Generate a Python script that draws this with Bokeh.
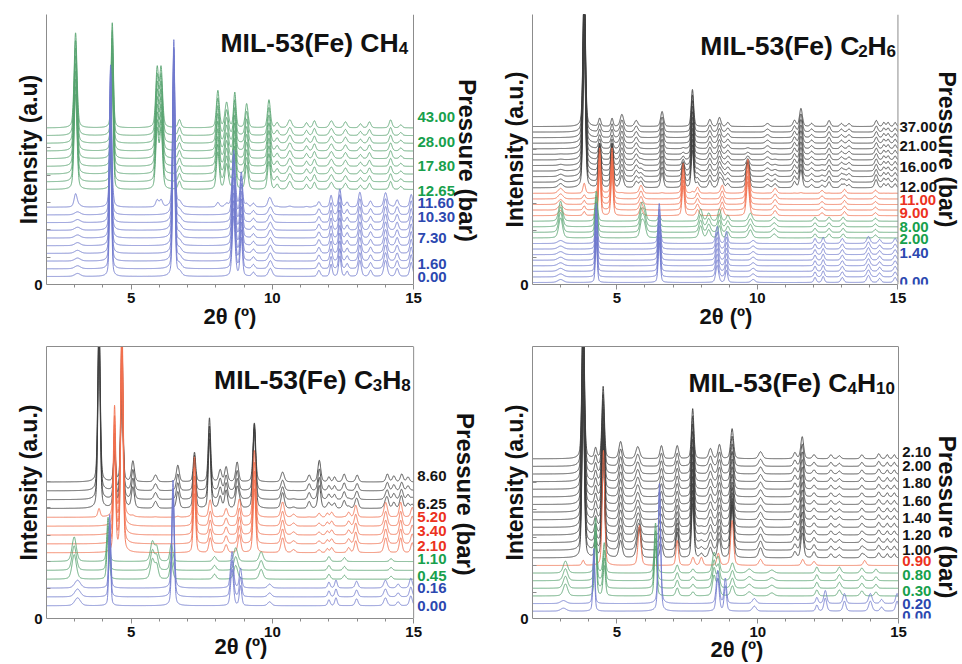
import math
import numpy as np
from bokeh.plotting import figure
from bokeh.layouts import gridplot
from bokeh.models import Range1d, FixedTicker, Label, Span, LinearAxis, Title
from bokeh.embed import file_html
from bokeh.resources import INLINE

# ------------------------------------------------------------------ data
X_TICKS = [5, 10, 15]
X_LABEL = "2θ (º)"

# peaks: (2theta, height, half-width)
CH4_BLUE = [(3.10, 3, 0.12), (4.27, 150, 0.04), (6.51, 175, 0.045), (6.72, 4, 0.08),
            (8.63, 60, 0.06), (8.90, 38, 0.05), (9.33, 4, 0.06), (9.93, 8, 0.08),
            (11.65, 6, 0.06), (12.08, 12, 0.05), (12.39, 20, 0.05), (12.65, 5, 0.05),
            (13.10, 16, 0.06), (13.48, 6, 0.06), (14.01, 16, 0.07), (14.42, 8, 0.06),
            (14.92, 14, 0.06)]
CH4_GREEN = [(3.03, 95, 0.06), (4.33, 105, 0.045), (5.92, 58, 0.06), (6.06, 58, 0.06),
             (6.71, 8, 0.06), (8.07, 37, 0.06), (8.38, 25, 0.07), (8.67, 35, 0.05),
             (9.09, 24, 0.06), (9.88, 28, 0.06), (10.17, 5, 0.06), (10.62, 8, 0.08),
             (11.21, 5, 0.06), (11.49, 7, 0.06), (12.09, 7, 0.08), (12.59, 6, 0.07),
             (13.12, 4, 0.06), (13.44, 6, 0.06), (14.19, 8, 0.06), (14.55, 3, 0.06)]
CH4_GROUPS = ["blue"] * 10 + ["green"] * 9
CH4_WEIGHTS = {"blue": [1, 1, 1, 1, 1, 1, 1, 1, 1, 0.9, 0, 0, 0, 0, 0, 0, 0, 0, 0],
               "green": [0, 0, 0, 0, 0, 0, 0, 0, 0, 0.12, 1, 1, 1, 1, 1, 1, 1, 1, 1]}
CH4_P_TEXT = ["43.00", "28.00", "17.80", "12.65", "11.60", "10.30", "7.30", "1.60", "0.00"]
CH4_P_GROUP = ["green", "green", "green", "green", "blue", "blue", "blue", "blue", "blue"]

C2H6_BLUE = [(3.00, 3, 0.12), (4.27, 40, 0.04), (6.51, 40, 0.045), (8.57, 17, 0.06),
             (8.90, 12, 0.05), (9.85, 3, 0.08), (12.05, 5, 0.05), (12.34, 6, 0.05),
             (13.02, 5, 0.06), (13.95, 7, 0.07), (14.35, 4, 0.06), (14.90, 5, 0.06)]
C2H6_GREEN = [(3.00, 20, 0.08), (4.27, 30, 0.05), (5.88, 15, 0.07), (5.98, 12, 0.07),
              (6.51, 6, 0.05), (7.98, 12, 0.07), (8.27, 8, 0.07), (8.65, 12, 0.06),
              (8.95, 6, 0.06), (9.75, 8, 0.08), (10.60, 4, 0.08), (12.05, 4, 0.06),
              (12.55, 4, 0.06), (13.05, 4, 0.06), (14.20, 3, 0.06)]
C2H6_RED = [(3.00, 5, 0.10), (3.84, 4, 0.05), (4.39, 45, 0.045), (4.83, 45, 0.045),
            (5.86, 8, 0.07), (7.36, 30, 0.05), (7.87, 6, 0.06), (8.75, 8, 0.06),
            (9.66, 34, 0.06), (10.63, 5, 0.07), (12.30, 3, 0.06), (13.10, 4, 0.06),
            (14.20, 3, 0.06)]
C2H6_BLACK = [(3.84, 150, 0.05), (4.39, 8, 0.05), (4.83, 8, 0.045), (5.18, 12, 0.07),
              (5.69, 6, 0.07), (6.61, 15, 0.06), (7.69, 37, 0.05), (8.31, 7, 0.06),
              (8.65, 9, 0.06), (8.95, 4, 0.06), (10.36, 3, 0.08), (11.32, 6, 0.06),
              (11.55, 18, 0.06), (11.93, 3, 0.06), (12.55, 6, 0.06), (12.99, 3, 0.06),
              (13.26, 3, 0.06), (14.23, 6, 0.06), (14.50, 4, 0.05), (14.65, 4, 0.05),
              (14.90, 4, 0.05)]
C2H6_GROUPS = ["blue"] * 8 + ["green"] * 4 + ["red"] * 5 + ["black"] * 12
C2H6_WEIGHTS = {
    "blue": [1, 1, 1, 1, 1, 1, 1, 1] + [0] * 21,
    "green": [0] * 8 + [1, 1, 1, 1] + [0] * 17,
    "red": [0] * 12 + [1, 1, 1, 1, 1] + [0.8, 0.6, 0.45, 0.3, 0.2, 0.12, 0.06, 0.03, 0, 0, 0, 0],
    "black": [0] * 12 + [0, 0, 0, 0, 0.04] + [1] * 12,
}
C2H6_P_TEXT = ["37.00", "21.00", "16.00", "12.00", "11.00", "9.00", "8.00", "2.00", "1.40", "0.00"]
C2H6_P_GROUP = ["black", "black", "black", "black", "red", "red", "green", "green", "blue", "blue"]

C3H8_BLUE = [(3.10, 8, 0.12), (4.24, 75, 0.04), (6.48, 110, 0.05), (8.57, 37, 0.06),
             (8.87, 20, 0.05), (9.90, 4, 0.08), (12.00, 6, 0.05), (12.25, 8, 0.05),
             (12.98, 7, 0.06), (14.00, 8, 0.07), (14.45, 4, 0.06), (14.90, 10, 0.06)]
C3H8_GREEN = [(2.98, 25, 0.09), (4.18, 45, 0.05), (5.75, 20, 0.08), (5.90, 14, 0.07),
              (6.42, 18, 0.06), (7.95, 5, 0.07), (8.70, 14, 0.08), (9.60, 10, 0.08),
              (12.00, 5, 0.06), (12.55, 4, 0.06), (14.20, 3, 0.06)]
C3H8_RED = [(4.41, 110, 0.045), (4.67, 200, 0.05), (7.24, 60, 0.05), (7.80, 15, 0.06),
            (8.36, 8, 0.06), (8.83, 18, 0.06), (9.36, 65, 0.055), (10.36, 15, 0.07),
            (10.75, 3, 0.07), (11.65, 3, 0.06), (11.94, 4, 0.05), (12.10, 5, 0.06),
            (12.70, 5, 0.06), (12.95, 12, 0.06), (14.01, 15, 0.07), (14.54, 15, 0.06),
            (14.95, 10, 0.06)]
C3H8_BLACK = [(3.86, 170, 0.05), (4.41, 30, 0.045), (4.67, 90, 0.05), (5.06, 21, 0.06),
              (5.86, 7, 0.07), (6.65, 17, 0.06), (7.24, 30, 0.05), (7.77, 65, 0.05),
              (8.15, 12, 0.06), (8.36, 15, 0.06), (8.75, 20, 0.06), (9.36, 60, 0.055),
              (10.36, 10, 0.07), (11.30, 7, 0.06), (11.66, 22, 0.06), (12.00, 5, 0.05),
              (12.20, 5, 0.05), (12.54, 8, 0.06), (13.00, 7, 0.06), (14.07, 8, 0.06),
              (14.30, 6, 0.06), (14.58, 8, 0.06), (14.80, 5, 0.06)]
C3H8_GROUPS = ["blue"] * 3 + ["green"] * 3 + ["red"] * 5 + ["black"] * 4
C3H8_WEIGHTS = {
    "blue": [1, 1, 1] + [0] * 12,
    "green": [0, 0, 0, 1, 1, 1] + [0] * 9,
    "red": [0] * 6 + [1, 1, 1, 1, 1] + [0.4, 0.2, 0.05, 0],
    "black": [0] * 10 + [0.05] + [1, 1, 1, 1],
}
C3H8_P_TEXT = ["8.60", "6.25", "5.20", "3.40", "2.10", "1.10", "0.45", "0.16", "0.00"]
C3H8_P_GROUP = ["black", "black", "red", "red", "red", "green", "green", "blue", "blue"]

C4H10_BLUE = [(3.10, 3, 0.12), (4.18, 55, 0.04), (6.51, 120, 0.05), (8.58, 33, 0.06),
              (8.85, 25, 0.05), (9.88, 5, 0.08), (12.10, 6, 0.05), (12.40, 13, 0.06),
              (13.08, 10, 0.06), (14.00, 10, 0.07), (14.40, 4, 0.06), (14.95, 10, 0.06)]
C4H10_GREEN = [(3.17, 12, 0.09), (4.24, 55, 0.045), (4.55, 30, 0.05), (6.37, 50, 0.05),
               (7.14, 8, 0.06), (7.70, 4, 0.06), (8.45, 20, 0.07), (8.60, 15, 0.06),
               (9.10, 10, 0.07), (9.70, 4, 0.10), (10.50, 3, 0.10), (12.10, 6, 0.06),
               (12.90, 6, 0.07), (13.70, 5, 0.07), (14.20, 4, 0.06)]
C4H10_RED = [(3.80, 5, 0.05), (4.52, 115, 0.05), (5.80, 40, 0.06), (7.14, 25, 0.05),
             (7.70, 8, 0.06), (8.00, 8, 0.06), (8.60, 12, 0.06), (9.09, 45, 0.06),
             (10.10, 6, 0.07), (11.60, 6, 0.06), (12.00, 4, 0.06), (13.80, 5, 0.06)]
C4H10_BLACK = [(3.80, 160, 0.05), (4.24, 10, 0.05), (4.51, 72, 0.05), (5.13, 17, 0.07),
               (5.74, 12, 0.08), (6.58, 13, 0.06), (7.14, 13, 0.06), (7.69, 50, 0.05),
               (8.32, 10, 0.07), (8.64, 14, 0.06), (9.09, 30, 0.06), (10.10, 7, 0.08),
               (11.32, 6, 0.06), (11.58, 22, 0.06), (12.00, 4, 0.06), (12.60, 4, 0.06),
               (12.90, 3, 0.06), (13.70, 4, 0.06), (14.30, 5, 0.06), (14.60, 4, 0.05),
               (14.85, 4, 0.05)]
C4H10_GROUPS = ["blue"] * 2 + ["green"] * 4 + ["red"] * 1 + ["black"] * 14
C4H10_WEIGHTS = {
    "blue": [1, 1] + [0] * 19,
    "green": [0, 0, 1, 1, 1, 1] + [0] * 15,
    "red": [0] * 6 + [1] + [0.5, 0.35, 0.25, 0.15, 0.1, 0.05] + [0] * 8,
    "black": [0] * 7 + [1] * 14,
}
C4H10_P_TEXT = ["2.10", "2.00", "1.80", "1.60", "1.40", "1.20", "1.00", "0.90", "0.80",
                "0.30", "0.20", "0.00"]
C4H10_P_GROUP = ["black"] * 7 + ["red", "green", "green", "blue", "blue"]

# ------------------------------------------------------------------ styles / layout
LINE_COLOR = {"blue": "#727ace", "green": "#58a470", "red": "#f2704f", "black": "#404040"}
LABEL_COLOR = {"blue": "#2c48b0", "green": "#17a04c", "red": "#ec3220", "black": "#151515"}
AXIS_COLOR = "#8c8c8c"
FONT = "Liberation Sans"

CHAR_W = {"M": .833, "I": .278, "L": .611, "-": .333, "(": .333, ")": .333, "F": .611,
          "e": .556, " ": .278, "C": .722, "H": .722}

PANELS = [
    dict(origin=(0, 0), size=(481, 332), frame=(46, 413, 14, 284), top_line=False,
         xlab_left=203, xlab_standoff=-4,
         peaks={"blue": CH4_BLUE, "green": CH4_GREEN}, groups=CH4_GROUPS, weights=CH4_WEIGHTS,
         offsets=[8 + 7.7 * i for i in range(10)] + [95 + 7.7 * j for j in range(9)],
         title=[("MIL-53(Fe) CH", False), ("4", True)], title_at=(220, 42),
         p_text=CH4_P_TEXT, p_group=CH4_P_GROUP, p_x=417,
         p_y=[116.7, 141.7, 165.7, 190, 202.3, 216.7, 237.3, 263.3, 276],
         ptitle_at=(466.7, 160), ylabel="Intensity (a.u)",
         minor_y=[27, 55, 82, 109, 137]),
    dict(origin=(481, 0), size=(480, 332), frame=(529, 897, 14, 284), top_line=False,
         xlab_left=696, xlab_standoff=-4,
         peaks={"blue": C2H6_BLUE, "green": C2H6_GREEN, "red": C2H6_RED, "black": C2H6_BLACK},
         groups=C2H6_GROUPS, weights=C2H6_WEIGHTS,
         offsets=[2 + 5.57 * i for i in range(29)],
         title=[("MIL-53(Fe) C", False), ("2", True), ("H", False), ("6", True)], title_at=(698, 45),
         p_text=C2H6_P_TEXT, p_group=C2H6_P_GROUP, p_x=898.5,
         p_y=[126, 145.7, 166.7, 186.7, 199.3, 212.7, 226, 238.3, 252.3, 281.7],
         ptitle_at=(946, 149), ptitle_size=23, ylabel="Intensity (a.u.)",
         minor_y=[27, 54, 81, 108, 135]),
    dict(origin=(0, 332), size=(481, 331), frame=(45, 413, 346, 623), top_line=True,
         xlab_left=213, xlab_standoff=-12,
         peaks={"blue": C3H8_BLUE, "green": C3H8_GREEN, "red": C3H8_RED, "black": C3H8_BLACK},
         groups=C3H8_GROUPS, weights=C3H8_WEIGHTS,
         offsets=[13 + 9.0 * i for i in range(15)],
         title=[("MIL-53(Fe) C", False), ("3", True), ("H", False), ("8", True)], title_at=(213, 380),
         p_text=C3H8_P_TEXT, p_group=C3H8_P_GROUP, p_x=416.7,
         p_y=[478.3, 506.7, 519.3, 534, 549.3, 562.7, 580, 591.7, 610.7],
         ptitle_at=(465, 496.7), ylabel="Intensity (a.u.)",
         minor_y=[31, 58, 85, 113, 140]),
    dict(origin=(481, 332), size=(480, 331), frame=(532, 898, 346, 618), top_line=True,
         xlab_left=710, xlab_standoff=-6,
         peaks={"blue": C4H10_BLUE, "green": C4H10_GREEN, "red": C4H10_RED, "black": C4H10_BLACK},
         groups=C4H10_GROUPS, weights=C4H10_WEIGHTS,
         offsets=[7.3 + 7.62 * i for i in range(21)],
         title=[("MIL-53(Fe) C", False), ("4", True), ("H", False), ("10", True)], title_at=(688, 382),
         p_text=C4H10_P_TEXT, p_group=C4H10_P_GROUP, p_x=901.7,
         p_y=[451.7, 465, 482.7, 500, 517.3, 534, 549.3, 560, 574.3, 590, 603.3, 615],
         ptitle_at=(947, 516.7), ylabel="Intensity (a.u.)",
         minor_y=[26, 53, 81, 109, 136]),
]

XS = np.linspace(2, 15, 2601)


def profile(peaks):
    y = np.zeros_like(XS)
    for pos, h, w in peaks:
        d = (XS - pos) / w
        y += h * (0.35 / (1 + d * d) + 0.65 * np.exp(-math.log(2) * d * d))
    return y


def text_width(s, size):
    return sum(CHAR_W.get(c, .556) for c in s) * size


def style_axis(ax):
    ax.axis_line_color = AXIS_COLOR
    ax.major_tick_line_color = AXIS_COLOR
    ax.minor_tick_line_color = AXIS_COLOR
    ax.major_label_text_font = FONT
    ax.major_label_text_font_size = "15px"
    ax.major_label_text_font_style = "bold"
    ax.major_label_text_color = "#111111"
    ax.axis_label_text_font = FONT
    ax.axis_label_text_font_style = "bold"
    ax.axis_label_text_color = "#111111"


def build(cfg):
    ox, oy = cfg["origin"]
    W, H = cfg["size"]
    fl, fr, ft, fb = cfg["frame"]
    ph = fb - ft
    scale = 13.0 / (fr - fl)           # data units per pixel along x
    x_end = 2 + (ox + W - fl) * scale  # frame runs to the canvas edge (labels live there)

    def tx(px):
        return 2 + (px - fl) * scale

    def ty(py):
        return fb - py

    p = figure(width=W, height=H, x_range=Range1d(2, x_end), y_range=Range1d(0, ph),
               min_border_left=fl - ox, min_border_right=0,
               min_border_top=ft - oy, min_border_bottom=oy + H - fb,
               output_backend="svg", toolbar_location=None)
    p.xgrid.visible = False
    p.ygrid.visible = False
    p.outline_line_color = None
    p.background_fill_color = "white"
    p.border_fill_color = "white"

    xb = p.below[0]
    yl = p.left[0]
    style_axis(xb)
    style_axis(yl)

    # x axis
    xb.bounds = (2, 15)
    xb.ticker = FixedTicker(ticks=X_TICKS, minor_ticks=list(range(3, 15)))
    xb.major_tick_in = 0
    xb.major_tick_out = 5
    xb.minor_tick_in = 0
    xb.minor_tick_out = 3
    xb.major_label_standoff = 3
    p.add_layout(Title(text=X_LABEL, align="left", offset=cfg["xlab_left"] - fl,
                       standoff=cfg["xlab_standoff"], vertical_align="top",
                       text_font=FONT, text_font_size="22px", text_font_style="bold",
                       text_color="#111111"), "below")

    # y axis: only the zero is labelled, small inner ticks
    yl.ticker = FixedTicker(ticks=[0], minor_ticks=cfg["minor_y"])
    yl.major_tick_in = 0
    yl.major_tick_out = 0
    yl.minor_tick_in = 4
    yl.minor_tick_out = 0
    yl.major_label_standoff = 4
    yl.axis_label = cfg["ylabel"]
    yl.axis_label_text_font_size = "23px"
    yl.axis_label_standoff = -11

    # right (and top) border of the plotting box
    p.add_layout(Span(location=15, dimension="height", line_color=AXIS_COLOR, line_width=1))
    if cfg["top_line"]:
        top = LinearAxis(bounds=(2, 15), ticker=FixedTicker(ticks=[]), axis_label=None,
                         major_tick_out=0, major_tick_in=0, minor_tick_out=0, minor_tick_in=0,
                         major_label_standoff=0, axis_line_color=AXIS_COLOR)
        p.add_layout(top, "above")

    # curves: top first so the lower ones sit on top
    profiles = {k: profile(v) for k, v in cfg["peaks"].items()}
    n = len(cfg["groups"])
    for i in reversed(range(n)):
        y = np.full_like(XS, cfg["offsets"][i])
        for k, prof in profiles.items():
            wgt = cfg["weights"][k][i]
            if wgt:
                y = y + wgt * prof
        p.line(XS, y, line_color=LINE_COLOR[cfg["groups"][i]], line_width=0.9)

    # title with subscripts
    px, py = cfg["title_at"]
    for s, sub in cfg["title"]:
        size = 17 if sub else 26.5
        p.add_layout(Label(x=tx(px), y=ty(py + (5 if sub else 0)), text=s,
                           text_font=FONT, text_font_size=f"{size}px", text_font_style="bold",
                           text_color="#111111", text_align="left", text_baseline="alphabetic"))
        px += text_width(s, size)

    # pressure labels
    for s, g, yy in zip(cfg["p_text"], cfg["p_group"], cfg["p_y"]):
        p.add_layout(Label(x=tx(cfg["p_x"]), y=ty(yy), text=s, text_font=FONT,
                           text_font_size="15px", text_font_style="bold",
                           text_color=LABEL_COLOR[g], text_align="left", text_baseline="middle"))

    ax_, ay_ = cfg["ptitle_at"]
    p.add_layout(Label(x=tx(ax_), y=ty(ay_), text="Pressure (bar)", text_font=FONT,
                       text_font_size=f"{cfg.get('ptitle_size', 24)}px", text_font_style="bold",
                       text_color="#111111", text_align="center", text_baseline="middle",
                       angle=-math.pi / 2))
    return p


figs = [build(c) for c in PANELS]
grid = gridplot([[figs[0], figs[1]], [figs[2], figs[3]]], toolbar_location=None)

open("out.html", "w").write(file_html(grid, INLINE))
